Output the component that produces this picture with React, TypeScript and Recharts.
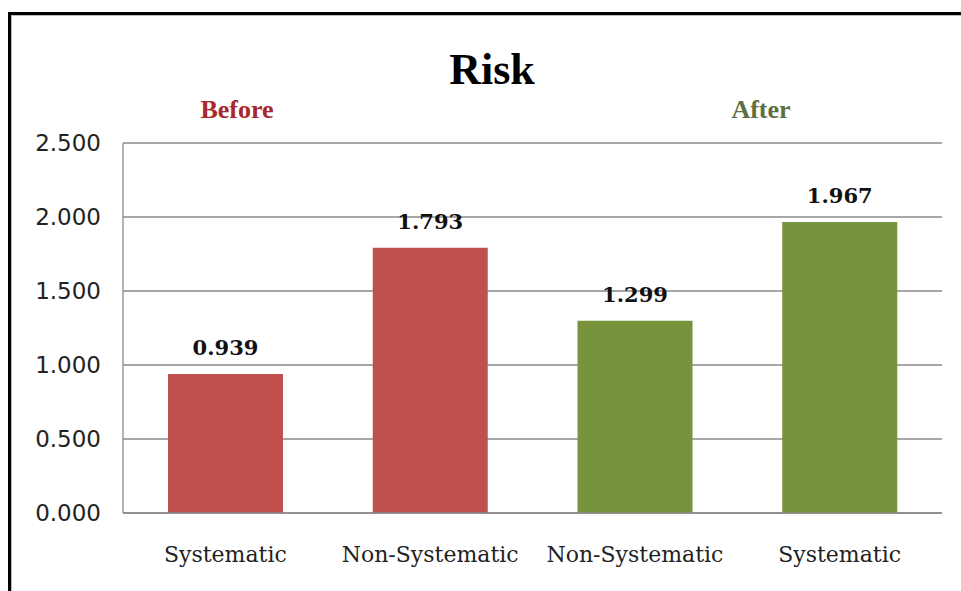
import { BarChart, Bar, XAxis, YAxis, CartesianGrid, Cell, LabelList } from 'recharts';

const categories = ['Systematic', 'Non-Systematic', 'Non-Systematic', 'Systematic'];
const riskValues = [0.939, 1.793, 1.299, 1.967];
const barColors = ['#C0504D', '#C0504D', '#77933C', '#77933C'];
const yTicks = [0, 0.5, 1, 1.5, 2, 2.5];

const data = categories.map((name, i) => ({ name, risk: riskValues[i] }));

export default function App() {
  return (
    <div style={{ position: 'absolute', left: 0, top: 0, width: 961, height: 591, overflow: 'hidden', background: '#fff' }}>
      {/* frame */}
      <div style={{ position: 'absolute', left: 8, top: 12, width: 1000, height: 700, border: '3px solid #000' }} />
      <div style={{ position: 'absolute', left: 11, top: 15, width: 1000, height: 700, border: '1px solid #bbb' }} />

      <div style={{ position: 'absolute', left: 0, top: 0 }}>
        <BarChart
          width={961}
          height={591}
          data={data}
          margin={{ top: 143, right: 19, bottom: 18, left: 13 }}
        >
          <CartesianGrid vertical={false} stroke="#8a8a8a" strokeWidth={1.3} />
          <XAxis
            dataKey="name"
            height={60}
            tickSize={0}
            tickMargin={33}
            axisLine={{ stroke: '#8a8a8a', strokeWidth: 1.3 }}
            tick={{ fill: '#222', fontSize: 22, fontFamily: 'DejaVu Serif' }}
          />
          <YAxis
            width={110}
            domain={[0, 2.5]}
            ticks={yTicks}
            tickSize={0}
            tickMargin={22}
            tickFormatter={(v: number) => v.toFixed(3)}
            axisLine={{ stroke: '#8a8a8a', strokeWidth: 1.3 }}
            tick={{ fill: '#222', fontSize: 23, fontFamily: 'DejaVu Sans' }}
          />
          <Bar dataKey="risk" barSize={115} isAnimationActive={false}>
            {data.map((d, i) => (
              <Cell key={i} fill={barColors[i]} />
            ))}
            <LabelList
              dataKey="risk"
              position="top"
              offset={19}
              formatter={(v: number) => v.toFixed(3)}
              style={{ fill: '#111', fontSize: 21, fontWeight: 'bold', fontFamily: 'DejaVu Serif' }}
            />
          </Bar>
        </BarChart>
      </div>

      <svg width={961} height={591} style={{ position: 'absolute', left: 0, top: 0, pointerEvents: 'none' }}>
        <text x={492} y={84} textAnchor="middle" fontSize={44} fontWeight="bold" fontFamily="Liberation Serif" fill="#000">Risk</text>
        <text x={237} y={118} textAnchor="middle" fontSize={26} fontWeight="bold" fontFamily="Liberation Serif" fill="#AA272B">Before</text>
        <text x={761} y={118} textAnchor="middle" fontSize={26} fontWeight="bold" fontFamily="Liberation Serif" fill="#5E6E3E">After</text>
      </svg>
    </div>
  );
}
